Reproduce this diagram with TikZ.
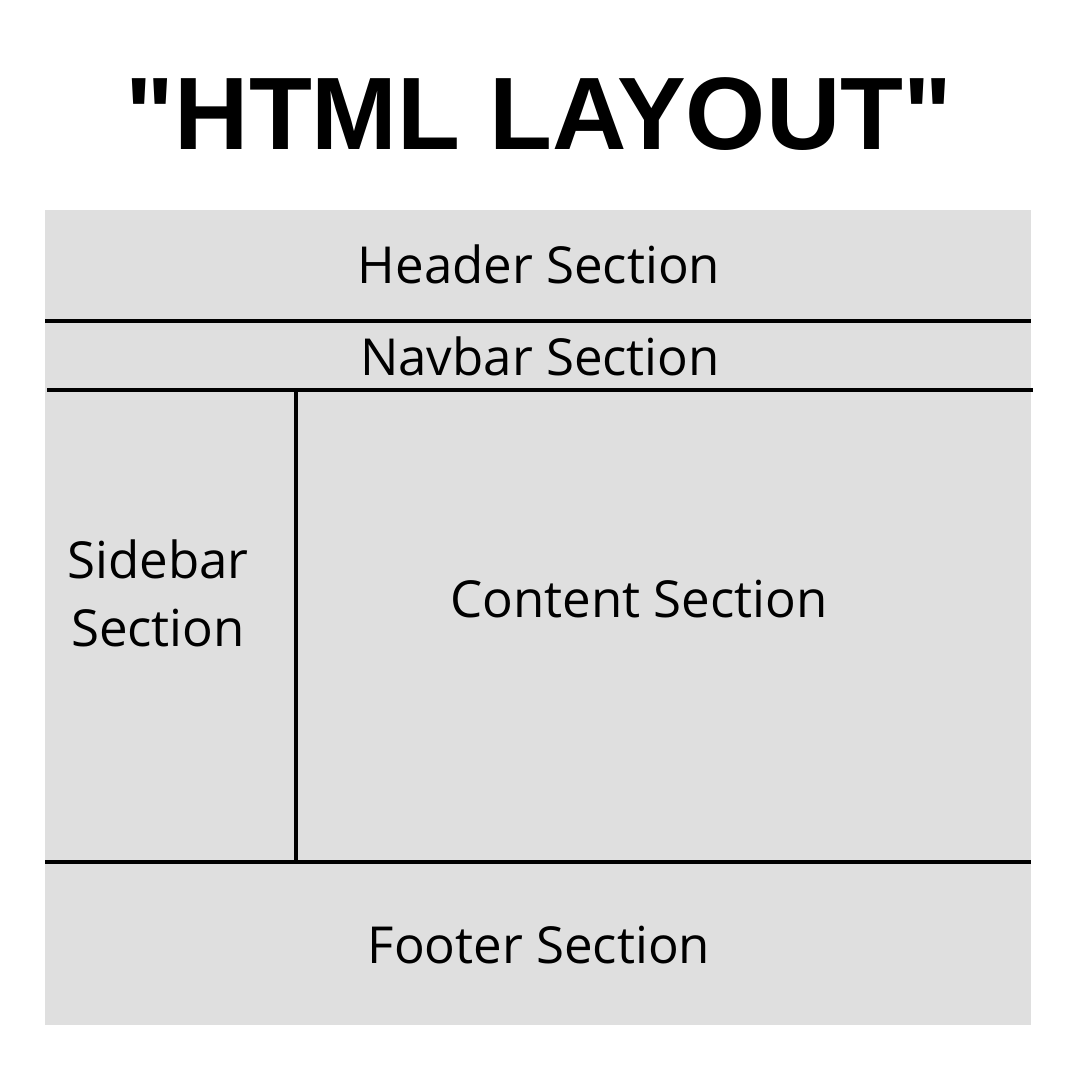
\documentclass[tikz,border=0pt]{standalone}
\usepackage{fontspec}
\setmainfont{Open Sans}
\newfontfamily\titlefont{Liberation Sans}
\usetikzlibrary{positioning}
\definecolor{panelgray}{RGB}{223,223,223}

\begin{document}
\begin{tikzpicture}[x=1pt,y=-1pt,
                sect/.style={font=\fontsize{51}{68}\selectfont,text=black,
                             inner sep=0pt,align=center},
                divider/.style={line width=4pt,black}]
                \useasboundingbox (0,0) rectangle (1080,1080);
                \fill[panelgray] (45,210) rectangle (1031,1025);
                \node[font=\titlefont\bfseries\fontsize{103}{110}\selectfont,
                      anchor=base] (title) at (539,149) {"HTML LAYOUT"};
                % dividers
                \draw[divider] (45,321) -- (1031,321);
                \draw[divider] (47,390) -- (1033,390);
                \draw[divider] (296,390) -- (296,862);
                \draw[divider] (45,862) -- (1031,862);
                % section labels
                \node[sect,anchor=base] (header)  at (539,283) {Header Section};
                \node[sect,anchor=base] (navbar)  at (540,375) {Navbar Section};
                \node[sect]             (sidebar) at (158,593) {Sidebar\\Section};
                \node[sect,anchor=base] (content) at (639,617) {Content Section};
                \node[sect,anchor=base] (footer)  at (539,963) {Footer Section};
            \end{tikzpicture}
\end{document}
